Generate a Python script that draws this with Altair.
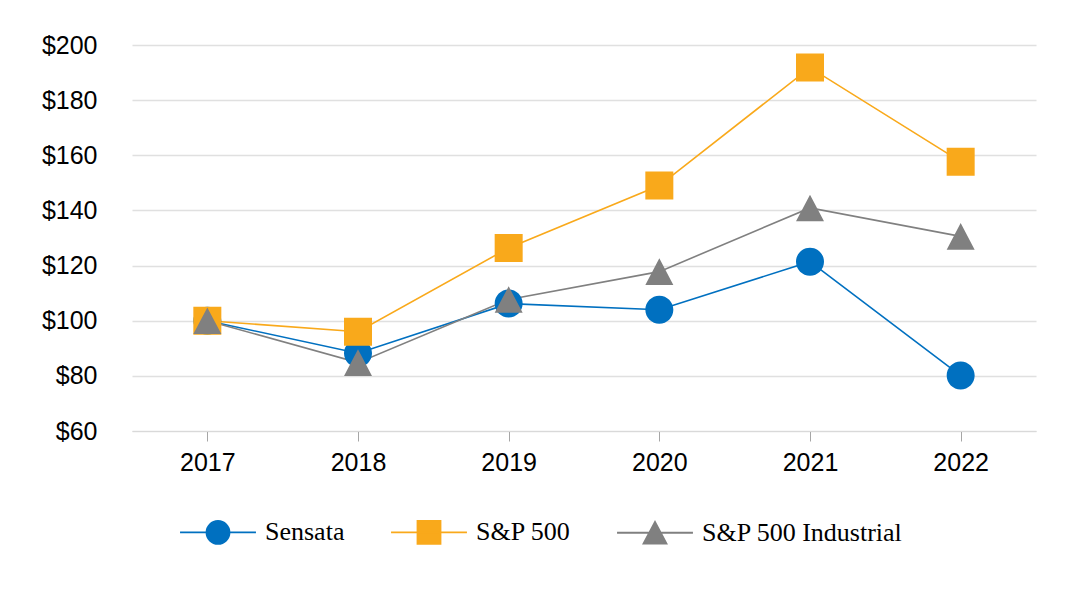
import altair as alt
import pandas as pd

years = ["2017", "2018", "2019", "2020", "2021", "2022"]
series_names = ["Sensata", "S&P 500", "S&P 500 Industrial"]
sensata = [100, 88.2, 106.2, 104.0, 121.4, 80.1]
sp500 = [100, 96.0, 126.4, 149.0, 191.8, 157.7]
sp500_ind = [100, 84.8, 107.7, 117.8, 140.9, 130.6]
colors = ["#0070C0", "#F9A91B", "#808080"]
shape_paths = [
    "M-1,0A1,1,0,1,1,1,0A1,1,0,1,1,-1,0Z M-3.3,0L3.3,0",
    "M-1,-1L1,-1L1,1L-1,1Z M-3.3,0L3.3,0",
    "M0,-0.95L1,0.95L-1,0.95Z M-3.3,0L3.3,0",
]

rows = []
for name, vals in zip(series_names, [sensata, sp500, sp500_ind]):
    for y, v in zip(years, vals):
        rows.append({"year": y, "series": name, "value": v})
df = pd.DataFrame(rows)

x_enc = alt.X(
    "year:O",
    sort=years,
    scale=alt.Scale(type="point", padding=0.5),
    axis=alt.Axis(
        title=None, labelAngle=0, domain=True, domainColor="#D9D9D9",
        ticks=True, tickColor="#A6A6A6", tickSize=10, grid=False,
        labelFont="Liberation Sans", labelFontSize=25, labelColor="black",
        labelPadding=9,
    ),
)
y_enc = alt.Y(
    "value:Q",
    scale=alt.Scale(domain=[60, 200], nice=False, zero=False),
    axis=alt.Axis(
        title=None, domain=False, ticks=False, grid=True, gridColor="#E0E0E0",
        gridWidth=1.5,
        values=[60, 80, 100, 120, 140, 160, 180, 200],
        labelExpr="'$' + datum.value",
        labelFont="Liberation Sans", labelFontSize=25, labelColor="black",
        labelPadding=35,
    ),
)

legend = alt.Legend(
    title=None, orient="none", direction="horizontal",
    legendX=73, legendY=474,
    symbolSize=529, symbolStrokeWidth=1.8,
    labelFont="Liberation Serif", labelFontSize=26, labelColor="black",
    labelOffset=34, columnPadding=42, labelLimit=0,
)

lines = alt.Chart(df).mark_line(strokeWidth=1.6).encode(
    x=x_enc, y=y_enc,
    color=alt.Color("series:N", sort=series_names,
                    scale=alt.Scale(range=colors), legend=None),
    detail="series:N",
)

points = alt.Chart(df).mark_point(filled=True, opacity=1, size=784).encode(
    x=x_enc, y=y_enc,
    fill=alt.Fill("series:N", sort=series_names,
                  scale=alt.Scale(domain=series_names, range=colors), legend=legend),
    stroke=alt.Stroke("series:N", sort=series_names,
                      scale=alt.Scale(domain=series_names, range=colors), legend=legend),
    shape=alt.Shape("series:N", sort=series_names,
                    scale=alt.Scale(domain=series_names, range=shape_paths), legend=legend),
    strokeWidth=alt.value(0),
)

chart = (
    alt.layer(lines, points)
    .properties(
        width=904, height=386,
        autosize=alt.AutoSizeParams(type="none"),
        padding={"left": 124, "top": 37, "right": 36, "bottom": 160},
    )
    .configure_view(stroke=None)
)

chart.save("out.html", embed_options={"renderer": "svg", "actions": False})
